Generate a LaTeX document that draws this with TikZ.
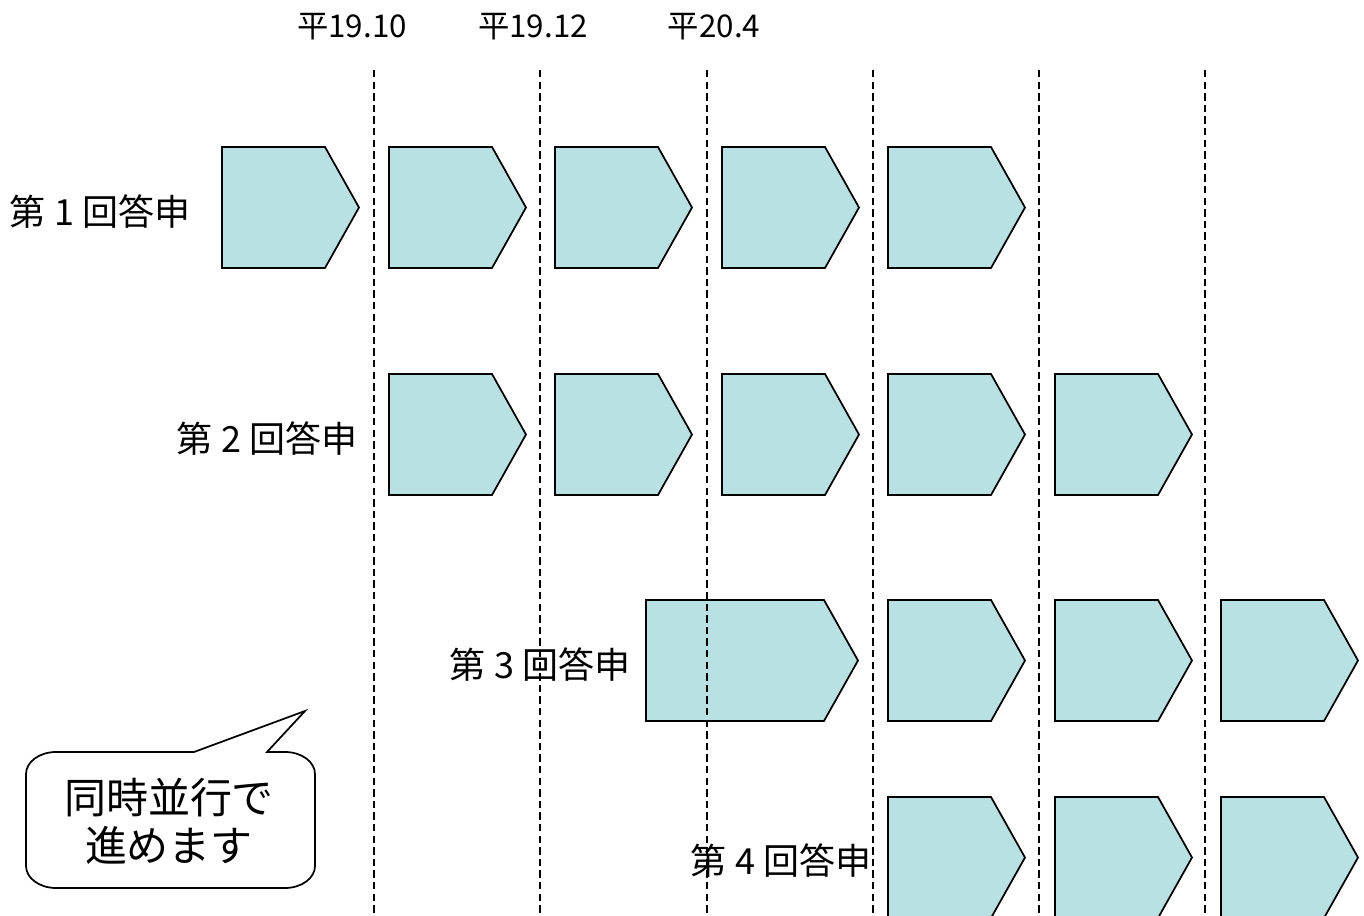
\documentclass[tikz,border=0pt]{standalone}
\usepackage{fontspec}
\setmainfont{Noto Sans CJK JP}
\definecolor{pfill}{RGB}{185,224,227}
\tikzset{
  pent/.style={draw=black, fill=pfill, line width=1.3pt, line join=miter},
  guide/.style={draw=black, line width=1.2pt, dash pattern=on 5.5pt off 3.2pt},
  rowlabel/.style={font=\fontsize{27}{32}\selectfont, inner sep=0pt},
  datelabel/.style={font=\fontsize{23.5}{28}\selectfont, inner sep=0pt},
  calloutbox/.style={draw=black, fill=white, line width=1.3pt, line join=miter},
  callouttext/.style={font=\fontsize{31.5}{36}\selectfont, align=center, inner sep=0pt}
}
\newcommand\pentshape[4]{% name, left x, top y, width
  \draw[pent] (#2,#3) -- ({#2+#4-34},#3) -- ({#2+#4},{#3+60.5}) -- ({#2+#4-34},{#3+121}) -- (#2,{#3+121}) -- cycle;
  \coordinate (#1) at ({#2+#4/2},{#3+60.5});}
\begin{document}
\begin{tikzpicture}[x=0.75pt,y=-0.75pt]
\useasboundingbox (0,0) rectangle (1364,916);
\clip (0,0) rectangle (1364,916);
% date labels
\node[datelabel] (d1) at (352,27) {平19.10};
\node[datelabel] (d2) at (533,27) {平19.12};
\node[datelabel] (d3) at (714,27) {平20.4};
% row 1
\foreach \i/\x in {1/222,2/389,3/555,4/722,5/888} {\pentshape{ra\i}{\x}{147}{137}}
\node[rowlabel] (l1) at (100,212) {第 1 回答申};
% row 2
\foreach \i/\x in {1/389,2/555,3/722,4/888,5/1055} {\pentshape{rb\i}{\x}{374}{137}}
\node[rowlabel] (l2) at (267,439) {第 2 回答申};
% row 3
\pentshape{rc1}{646}{600}{212}
\foreach \i/\x in {2/888,3/1055,4/1221} {\pentshape{rc\i}{\x}{600}{137}}
\node[rowlabel] (l3) at (540,665) {第 3 回答申};
% row 4
\foreach \i/\x in {1/888,2/1055,3/1221} {\pentshape{rd\i}{\x}{797}{137}}
\node[rowlabel] (l4) at (781,861) {第 4 回答申};
% callout
\draw[calloutbox] (267,752) -- (285,752)
  arc[start angle=270, end angle=360, x radius=30, y radius=22] -- (315,866)
  arc[start angle=0, end angle=90, x radius=30, y radius=22] -- (56,888)
  arc[start angle=90, end angle=180, x radius=30, y radius=22] -- (26,774)
  arc[start angle=180, end angle=270, x radius=30, y radius=22] -- (194,752) -- (305,711) -- cycle;
\node[callouttext] (c) at (169,821) {同時並行で\\進めます};
% guides
\foreach \x in {374,540,707,873,1039,1205} {\draw[guide] (\x,70) -- (\x,916);}
\end{tikzpicture}
\end{document}
